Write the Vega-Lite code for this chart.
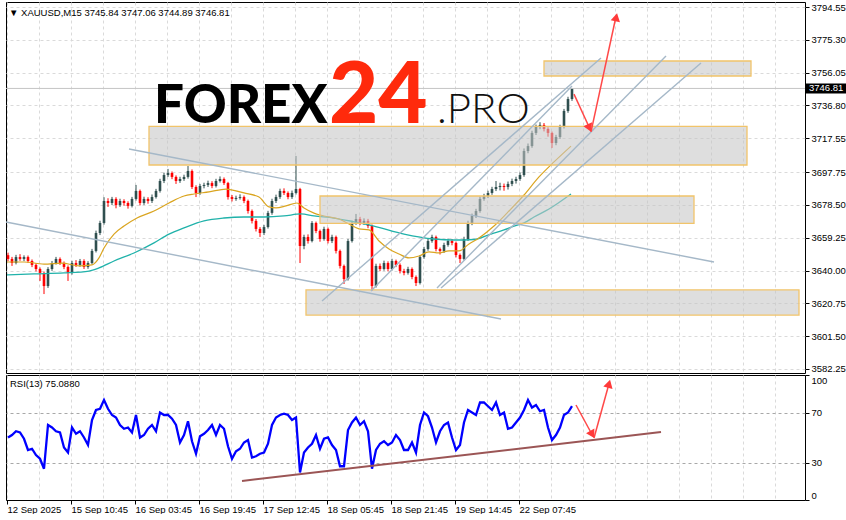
{
"$schema": "https://vega.github.io/schema/vega-lite/v6.json",
"background": "white",
"padding": {"left": 2, "top": 1, "right": 0, "bottom": 0},
"spacing": 0,
"config": {
  "view": {"stroke": "black", "strokeWidth": 1},
  "axis": {"labelFont": "Liberation Sans", "labelFontSize": 9.5, "labelColor": "#000", "tickColor": "#000", "domain": false, "title": null, "labelOverlap": false, "labelSeparation": 0, "tickCount": 60},
  "text": {"font": "Liberation Sans"}
},
"datasets": {
"candles": [
{"x":4,"o":3649.0,"h":3650.5,"l":3645.5,"c":3646.8,"r":50},
{"x":8,"o":3646.8,"h":3648.0,"l":3642.7,"c":3644.4,"r":52},
{"x":12,"o":3644.4,"h":3649.2,"l":3643.6,"c":3647.9,"r":55},
{"x":16,"o":3647.9,"h":3649.6,"l":3645.7,"c":3646.8,"r":54},
{"x":20,"o":3646.8,"h":3648.9,"l":3645.5,"c":3647.9,"r":49},
{"x":24,"o":3647.9,"h":3648.8,"l":3644.5,"c":3645.6,"r":40},
{"x":28,"o":3645.6,"h":3646.5,"l":3642.0,"c":3643.3,"r":41},
{"x":32,"o":3643.3,"h":3644.2,"l":3639.5,"c":3640.9,"r":36},
{"x":36,"o":3640.9,"h":3641.8,"l":3633.9,"c":3638.6,"r":33},
{"x":40,"o":3638.6,"h":3639.4,"l":3626.2,"c":3630.9,"r":25},
{"x":44,"o":3630.9,"h":3642.0,"l":3629.8,"c":3640.9,"r":60},
{"x":48,"o":3640.9,"h":3645.6,"l":3639.8,"c":3644.4,"r":58},
{"x":52,"o":3644.4,"h":3648.0,"l":3643.5,"c":3646.8,"r":55},
{"x":56,"o":3646.8,"h":3647.7,"l":3643.3,"c":3644.4,"r":54},
{"x":60,"o":3644.4,"h":3645.3,"l":3640.8,"c":3642.1,"r":42},
{"x":64,"o":3642.1,"h":3643.0,"l":3633.9,"c":3638.6,"r":38},
{"x":68,"o":3638.6,"h":3645.7,"l":3637.6,"c":3644.4,"r":58},
{"x":72,"o":3644.4,"h":3646.1,"l":3642.1,"c":3643.3,"r":53},
{"x":76,"o":3643.3,"h":3646.8,"l":3642.2,"c":3645.6,"r":55},
{"x":80,"o":3645.6,"h":3646.6,"l":3640.9,"c":3642.1,"r":50},
{"x":84,"o":3642.1,"h":3645.5,"l":3641.0,"c":3644.4,"r":44},
{"x":88,"o":3644.4,"h":3652.7,"l":3643.6,"c":3651.5,"r":64},
{"x":92,"o":3651.5,"h":3663.4,"l":3650.6,"c":3662.0,"r":72},
{"x":96,"o":3662.0,"h":3669.2,"l":3660.8,"c":3667.9,"r":73},
{"x":100,"o":3667.9,"h":3683.0,"l":3666.9,"c":3680.8,"r":80},
{"x":104,"o":3680.8,"h":3682.4,"l":3677.3,"c":3679.6,"r":73},
{"x":108,"o":3679.6,"h":3683.2,"l":3678.4,"c":3682.0,"r":68},
{"x":112,"o":3682.0,"h":3683.0,"l":3676.5,"c":3678.4,"r":66},
{"x":116,"o":3678.4,"h":3682.1,"l":3677.3,"c":3680.8,"r":60},
{"x":120,"o":3680.8,"h":3681.8,"l":3678.0,"c":3679.6,"r":57},
{"x":124,"o":3679.6,"h":3680.6,"l":3676.3,"c":3677.9,"r":58},
{"x":128,"o":3677.9,"h":3683.2,"l":3677.0,"c":3682.0,"r":54},
{"x":132,"o":3682.0,"h":3690.2,"l":3681.0,"c":3686.7,"r":68},
{"x":136,"o":3686.7,"h":3687.5,"l":3678.2,"c":3679.6,"r":50},
{"x":140,"o":3679.6,"h":3683.3,"l":3678.5,"c":3682.0,"r":52},
{"x":144,"o":3682.0,"h":3683.0,"l":3679.2,"c":3680.8,"r":57},
{"x":148,"o":3680.8,"h":3684.6,"l":3679.6,"c":3683.1,"r":60},
{"x":152,"o":3683.1,"h":3687.9,"l":3682.2,"c":3686.7,"r":55},
{"x":156,"o":3686.7,"h":3693.8,"l":3685.7,"c":3692.5,"r":70},
{"x":160,"o":3692.5,"h":3697.4,"l":3691.3,"c":3696.0,"r":68},
{"x":164,"o":3696.0,"h":3699.6,"l":3694.9,"c":3697.2,"r":68},
{"x":168,"o":3697.2,"h":3698.1,"l":3693.6,"c":3694.9,"r":65},
{"x":172,"o":3694.9,"h":3695.8,"l":3690.8,"c":3692.5,"r":60},
{"x":176,"o":3692.5,"h":3695.0,"l":3691.4,"c":3693.7,"r":46},
{"x":180,"o":3693.7,"h":3696.2,"l":3692.6,"c":3694.9,"r":52},
{"x":184,"o":3694.9,"h":3701.3,"l":3693.9,"c":3698.4,"r":63},
{"x":188,"o":3698.4,"h":3699.3,"l":3687.8,"c":3689.0,"r":47},
{"x":192,"o":3689.0,"h":3690.0,"l":3683.1,"c":3685.5,"r":37},
{"x":196,"o":3685.5,"h":3690.8,"l":3684.4,"c":3689.6,"r":51},
{"x":200,"o":3689.6,"h":3691.5,"l":3688.2,"c":3690.2,"r":53},
{"x":204,"o":3690.2,"h":3692.7,"l":3689.0,"c":3691.3,"r":56},
{"x":208,"o":3691.3,"h":3692.4,"l":3688.3,"c":3689.6,"r":60},
{"x":212,"o":3689.6,"h":3693.8,"l":3688.7,"c":3692.5,"r":52},
{"x":216,"o":3692.5,"h":3695.2,"l":3691.6,"c":3693.7,"r":60},
{"x":220,"o":3693.7,"h":3694.6,"l":3690.2,"c":3691.3,"r":57},
{"x":224,"o":3691.3,"h":3692.0,"l":3681.6,"c":3683.1,"r":43},
{"x":228,"o":3683.1,"h":3684.3,"l":3680.5,"c":3682.0,"r":33},
{"x":232,"o":3682.0,"h":3683.9,"l":3680.9,"c":3682.6,"r":39},
{"x":236,"o":3682.6,"h":3684.7,"l":3681.6,"c":3683.1,"r":41},
{"x":240,"o":3683.1,"h":3684.0,"l":3679.5,"c":3680.8,"r":46},
{"x":244,"o":3680.8,"h":3681.6,"l":3673.4,"c":3674.9,"r":48},
{"x":248,"o":3674.9,"h":3675.8,"l":3667.6,"c":3669.1,"r":34},
{"x":252,"o":3669.1,"h":3670.2,"l":3662.9,"c":3664.4,"r":35},
{"x":256,"o":3664.4,"h":3665.5,"l":3659.7,"c":3662.0,"r":37},
{"x":260,"o":3662.0,"h":3666.8,"l":3660.8,"c":3665.5,"r":38},
{"x":264,"o":3665.5,"h":3675.0,"l":3664.6,"c":3673.8,"r":45},
{"x":268,"o":3673.8,"h":3682.1,"l":3672.7,"c":3680.8,"r":60},
{"x":272,"o":3680.8,"h":3684.5,"l":3679.6,"c":3683.1,"r":66},
{"x":276,"o":3683.1,"h":3688.0,"l":3682.0,"c":3686.7,"r":68},
{"x":280,"o":3686.7,"h":3688.2,"l":3684.3,"c":3685.5,"r":69},
{"x":284,"o":3685.5,"h":3686.4,"l":3681.8,"c":3683.1,"r":68},
{"x":288,"o":3683.1,"h":3686.9,"l":3682.0,"c":3685.5,"r":64},
{"x":292,"o":3685.5,"h":3707.2,"l":3684.6,"c":3687.8,"r":66},
{"x":296,"o":3687.8,"h":3688.5,"l":3644.4,"c":3654.4,"r":22},
{"x":300,"o":3654.4,"h":3661.0,"l":3652.5,"c":3659.7,"r":38},
{"x":304,"o":3659.7,"h":3661.2,"l":3655.8,"c":3657.3,"r":42},
{"x":308,"o":3657.3,"h":3669.0,"l":3656.5,"c":3667.9,"r":45},
{"x":312,"o":3667.9,"h":3668.7,"l":3661.9,"c":3663.2,"r":52},
{"x":316,"o":3663.2,"h":3664.0,"l":3656.9,"c":3658.5,"r":41},
{"x":320,"o":3658.5,"h":3665.7,"l":3657.5,"c":3664.4,"r":49},
{"x":324,"o":3664.4,"h":3665.2,"l":3655.9,"c":3657.3,"r":50},
{"x":328,"o":3657.3,"h":3661.0,"l":3656.1,"c":3659.7,"r":44},
{"x":332,"o":3659.7,"h":3660.5,"l":3650.0,"c":3651.5,"r":40},
{"x":336,"o":3651.5,"h":3652.3,"l":3641.2,"c":3642.7,"r":27},
{"x":340,"o":3642.7,"h":3643.5,"l":3632.1,"c":3635.0,"r":27},
{"x":344,"o":3635.0,"h":3658.5,"l":3634.1,"c":3657.3,"r":56},
{"x":348,"o":3657.3,"h":3669.2,"l":3656.4,"c":3667.9,"r":62},
{"x":352,"o":3667.9,"h":3673.2,"l":3666.8,"c":3670.2,"r":66},
{"x":356,"o":3670.2,"h":3671.5,"l":3666.6,"c":3667.9,"r":60},
{"x":360,"o":3667.9,"h":3670.6,"l":3666.8,"c":3669.1,"r":63},
{"x":364,"o":3669.1,"h":3670.3,"l":3664.8,"c":3666.1,"r":55},
{"x":368,"o":3666.1,"h":3667.0,"l":3628.0,"c":3630.9,"r":25},
{"x":372,"o":3630.9,"h":3644.0,"l":3630.0,"c":3642.7,"r":40},
{"x":376,"o":3642.7,"h":3644.1,"l":3639.6,"c":3640.9,"r":45},
{"x":380,"o":3640.9,"h":3645.8,"l":3639.9,"c":3644.4,"r":47},
{"x":384,"o":3644.4,"h":3645.4,"l":3639.5,"c":3640.9,"r":44},
{"x":388,"o":3640.9,"h":3646.9,"l":3640.0,"c":3645.6,"r":46},
{"x":392,"o":3645.6,"h":3646.4,"l":3642.0,"c":3643.3,"r":52},
{"x":396,"o":3643.3,"h":3644.2,"l":3638.3,"c":3639.7,"r":48},
{"x":400,"o":3639.7,"h":3641.0,"l":3637.2,"c":3638.6,"r":40},
{"x":404,"o":3638.6,"h":3642.2,"l":3637.6,"c":3640.9,"r":40},
{"x":408,"o":3640.9,"h":3641.8,"l":3634.9,"c":3636.2,"r":46},
{"x":412,"o":3636.2,"h":3637.1,"l":3630.9,"c":3632.7,"r":38},
{"x":416,"o":3632.7,"h":3649.1,"l":3631.8,"c":3647.9,"r":60},
{"x":420,"o":3647.9,"h":3653.9,"l":3646.9,"c":3652.6,"r":70},
{"x":424,"o":3652.6,"h":3658.6,"l":3651.6,"c":3657.3,"r":67},
{"x":428,"o":3657.3,"h":3661.0,"l":3656.3,"c":3659.7,"r":58},
{"x":432,"o":3659.7,"h":3660.5,"l":3651.2,"c":3652.6,"r":46},
{"x":436,"o":3652.6,"h":3653.5,"l":3649.4,"c":3651.5,"r":55},
{"x":440,"o":3651.5,"h":3656.3,"l":3650.3,"c":3655.0,"r":60},
{"x":444,"o":3655.0,"h":3658.7,"l":3654.0,"c":3657.3,"r":62},
{"x":448,"o":3657.3,"h":3658.5,"l":3654.8,"c":3656.2,"r":50},
{"x":452,"o":3656.2,"h":3657.0,"l":3647.7,"c":3649.1,"r":40},
{"x":456,"o":3649.1,"h":3650.0,"l":3644.4,"c":3646.8,"r":44},
{"x":460,"o":3646.8,"h":3659.8,"l":3645.9,"c":3658.5,"r":62},
{"x":464,"o":3658.5,"h":3669.2,"l":3657.4,"c":3667.9,"r":72},
{"x":468,"o":3667.9,"h":3673.4,"l":3666.6,"c":3672.0,"r":70},
{"x":472,"o":3672.0,"h":3676.2,"l":3670.8,"c":3674.9,"r":68},
{"x":476,"o":3674.9,"h":3683.3,"l":3673.9,"c":3682.0,"r":78},
{"x":480,"o":3682.0,"h":3685.0,"l":3680.9,"c":3683.7,"r":78},
{"x":484,"o":3683.7,"h":3686.8,"l":3682.5,"c":3685.5,"r":75},
{"x":488,"o":3685.5,"h":3689.1,"l":3684.4,"c":3687.8,"r":72},
{"x":492,"o":3687.8,"h":3692.5,"l":3686.6,"c":3689.0,"r":78},
{"x":496,"o":3689.0,"h":3691.5,"l":3687.0,"c":3689.6,"r":68},
{"x":500,"o":3689.6,"h":3691.0,"l":3686.8,"c":3689.0,"r":70},
{"x":504,"o":3689.0,"h":3692.2,"l":3687.5,"c":3690.8,"r":57},
{"x":508,"o":3690.8,"h":3693.9,"l":3689.5,"c":3692.5,"r":58},
{"x":512,"o":3692.5,"h":3695.0,"l":3691.0,"c":3693.7,"r":62},
{"x":516,"o":3693.7,"h":3697.5,"l":3692.6,"c":3696.0,"r":66},
{"x":520,"o":3696.0,"h":3711.6,"l":3695.0,"c":3710.1,"r":72},
{"x":524,"o":3710.1,"h":3714.5,"l":3708.8,"c":3713.0,"r":80},
{"x":528,"o":3713.0,"h":3722.0,"l":3712.0,"c":3720.7,"r":74},
{"x":532,"o":3720.7,"h":3725.6,"l":3719.5,"c":3724.2,"r":76},
{"x":536,"o":3724.2,"h":3727.0,"l":3722.9,"c":3725.4,"r":71},
{"x":540,"o":3725.4,"h":3726.5,"l":3721.6,"c":3723.0,"r":72},
{"x":544,"o":3723.0,"h":3724.0,"l":3718.5,"c":3720.7,"r":58},
{"x":548,"o":3720.7,"h":3721.5,"l":3711.9,"c":3714.8,"r":48},
{"x":552,"o":3714.8,"h":3719.6,"l":3713.5,"c":3718.3,"r":52},
{"x":556,"o":3718.3,"h":3725.5,"l":3717.2,"c":3724.2,"r":58},
{"x":560,"o":3724.2,"h":3734.8,"l":3723.3,"c":3733.6,"r":68},
{"x":564,"o":3733.6,"h":3741.9,"l":3732.5,"c":3740.6,"r":70},
{"x":568,"o":3740.6,"h":3747.06,"l":3739.5,"c":3746.81,"r":75.088}
],
"ma1": [
{"x":3,"m":3645.0},{"x":20,"m":3645.0},{"x":40,"m":3643.8},{"x":58,"m":3644.4},{"x":75,"m":3642.7},{"x":88,"m":3643.3},{"x":95,"m":3647.4},{"x":100,"m":3653.2},{"x":110,"m":3661.4},{"x":120,"m":3666.1},{"x":133,"m":3670.8},{"x":150,"m":3674.9},{"x":165,"m":3679.6},{"x":180,"m":3683.7},{"x":190,"m":3684.9},{"x":205,"m":3686.1},{"x":222,"m":3687.8},{"x":240,"m":3685.5},{"x":255,"m":3683.1},{"x":265,"m":3677.3},{"x":272,"m":3676.7},{"x":282,"m":3677.9},{"x":293,"m":3679.6},{"x":300,"m":3676.7},{"x":310,"m":3673.7},{"x":320,"m":3672.0},{"x":335,"m":3670.2},{"x":345,"m":3667.3},{"x":355,"m":3664.4},{"x":365,"m":3663.8},{"x":375,"m":3657.3},{"x":385,"m":3652.6},{"x":395,"m":3649.7},{"x":405,"m":3647.4},{"x":415,"m":3648.5},{"x":425,"m":3650.9},{"x":435,"m":3650.3},{"x":445,"m":3651.5},{"x":455,"m":3651.5},{"x":465,"m":3655.6},{"x":475,"m":3659.1},{"x":490,"m":3666.1},{"x":503,"m":3673.7},{"x":520,"m":3684.3},{"x":535,"m":3694.9},{"x":550,"m":3703.7},{"x":567,"m":3713.0}
],
"ma2": [
{"x":3,"m":3637.4},{"x":30,"m":3638.0},{"x":60,"m":3638.6},{"x":85,"m":3639.7},{"x":95,"m":3641.5},{"x":110,"m":3645.6},{"x":130,"m":3650.3},{"x":150,"m":3656.2},{"x":165,"m":3661.4},{"x":180,"m":3665.0},{"x":200,"m":3669.1},{"x":220,"m":3670.8},{"x":240,"m":3671.4},{"x":260,"m":3671.4},{"x":280,"m":3672.0},{"x":297,"m":3673.2},{"x":310,"m":3672.0},{"x":330,"m":3670.8},{"x":350,"m":3668.6},{"x":370,"m":3666.1},{"x":400,"m":3661.4},{"x":430,"m":3658.5},{"x":450,"m":3657.9},{"x":470,"m":3658.2},{"x":487,"m":3661.4},{"x":500,"m":3663.8},{"x":510,"m":3666.1},{"x":520,"m":3667.9},{"x":530,"m":3671.4},{"x":545,"m":3676.1},{"x":567,"m":3684.9}
],
"tlines": [
{"id":"d1","x":125,"p":3711.3},{"id":"d1","x":710,"p":3645.0},
{"id":"d2","x":2,"p":3668.5},{"id":"d2","x":497,"p":3611.6},
{"id":"u1","x":318,"p":3622.1},{"id":"u1","x":597,"p":3764.7},
{"id":"u2","x":367,"p":3628.0},{"id":"u2","x":568,"p":3748.2},
{"id":"u3","x":433,"p":3629.8},{"id":"u3","x":662,"p":3765.8},
{"id":"u4","x":437,"p":3629.8},{"id":"u4","x":697,"p":3761.7}
],
"zones": [
{"x":540,"x2":747,"p":3762.9,"p2":3754.1},
{"x":145,"x2":743,"p":3724.5,"p2":3701.9},
{"x":316,"x2":690,"p":3683.7,"p2":3667.6},
{"x":302,"x2":795,"p":3628.6,"p2":3613.9}
],
"arrows": [
{"id":"a1","x":570,"p":3743.5},{"id":"a1","x":586,"p":3723.0},
{"id":"a2","x":587,"p":3721.3},{"id":"a2","x":612,"p":3789.0}
],
"rsiarrows": [
{"id":"b1","x":572,"r":76},{"id":"b1","x":589,"r":51},
{"id":"b2","x":590,"r":49.6},{"id":"b2","x":605,"r":93}
]
},
"vconcat": [
{
"width": 799, "height": 371,
"layer": [
{
"data": {"name": "candles"},
"mark": {"type": "rule", "strokeWidth": 1},
"encoding": {
  "x": {"field": "x", "type": "quantitative", "scale": {"domain": [2, 801], "nice": false, "zero": false},
        "axis": {"values": [3,35,67,99,131,163,195,227,259,291,323,355,387,419,451,483,515,547,579,611,643,675,707,739,771], "tickCount": 60, "grid": true, "gridDash": [3,3], "gridColor": "#dadada", "labels": false, "ticks": false, "domain": false, "minExtent": 0, "title": null}},
  "y": {"field": "l", "type": "quantitative", "scale": {"domain": [3579.9, 3797.5], "nice": false, "zero": false},
        "axis": {"orient": "right", "values": [3582.25,3601.5,3620.75,3640,3659.25,3678.5,3697.75,3717.55,3736.8,3756.05,3775.3,3794.55], "tickCount": 60, "format": ".2f", "tickSize": 4, "labelPadding": 2, "grid": true, "gridDash": [3,3], "gridColor": "#dadada", "labelOverlap": false, "labelBound": false, "title": null}},
  "y2": {"field": "h"},
  "color": {"condition": {"test": "datum.c >= datum.o", "value": "#2f4f4f"}, "value": "#ff0000"}
}
},
{
"data": {"name": "candles"},
"mark": {"type": "rule", "strokeWidth": 2.6, "strokeCap": "butt"},
"encoding": {
  "x": {"field": "x", "type": "quantitative"},
  "y": {"field": "o", "type": "quantitative"},
  "y2": {"field": "c"},
  "color": {"condition": {"test": "datum.c >= datum.o", "value": "#2f4f4f"}, "value": "#ff0000"}
}
},
{
"data": {"values": [{"p": 3746.81}]},
"mark": {"type": "rule", "color": "#c4c4c4", "strokeWidth": 1},
"encoding": {"y": {"field": "p", "type": "quantitative"}}
},
{
"data": {"name": "ma2"},
"mark": {"type": "line", "color": "#20b2aa", "strokeWidth": 1.3, "interpolate": "monotone"},
"encoding": {"x": {"field": "x", "type": "quantitative"}, "y": {"field": "m", "type": "quantitative"}}
},
{
"data": {"name": "ma1"},
"mark": {"type": "line", "color": "#daa520", "strokeWidth": 1.2, "interpolate": "monotone"},
"encoding": {"x": {"field": "x", "type": "quantitative"}, "y": {"field": "m", "type": "quantitative"}}
},
{
"data": {"name": "zones"},
"mark": {"type": "rect", "fill": "#c6c6c6", "fillOpacity": 0.58, "stroke": "#f1c46a", "strokeWidth": 1.3},
"encoding": {"x": {"field": "x", "type": "quantitative"}, "x2": {"field": "x2"}, "y": {"field": "p", "type": "quantitative"}, "y2": {"field": "p2"}}
},
{
"data": {"name": "tlines"},
"mark": {"type": "line", "color": "#a5b8c8", "strokeWidth": 1.4},
"encoding": {"x": {"field": "x", "type": "quantitative"}, "y": {"field": "p", "type": "quantitative"}, "detail": {"field": "id"}}
},
{
"data": {"name": "arrows"},
"mark": {"type": "line", "color": "#ff4848", "strokeWidth": 1.5},
"encoding": {"x": {"field": "x", "type": "quantitative"}, "y": {"field": "p", "type": "quantitative"}, "detail": {"field": "id"}}
},
{
"data": {"values": [{"x": 585.4, "p": 3723.6}]},
"mark": {"type": "point", "shape": "triangle-up", "filled": true, "angle": 156, "size": 90, "color": "#ff3a3a", "opacity": 1},
"encoding": {"x": {"field": "x", "type": "quantitative"}, "y": {"field": "p", "type": "quantitative"}}
},
{
"data": {"values": [{"x": 612.2, "p": 3788.6}]},
"mark": {"type": "point", "shape": "triangle-up", "filled": true, "angle": 12, "size": 90, "color": "#ff3a3a", "opacity": 1},
"encoding": {"x": {"field": "x", "type": "quantitative"}, "y": {"field": "p", "type": "quantitative"}}
},
{
"data": {"values": [{"x": 150, "p": 3726.5, "t": "FOREX"}]},
"mark": {"type": "text", "font": "Lato", "fontWeight": 900, "fontSize": 53, "color": "#000", "align": "left", "baseline": "alphabetic"},
"encoding": {"x": {"field": "x", "type": "quantitative"}, "y": {"field": "p", "type": "quantitative"}, "text": {"field": "t"}}
},
{
"data": {"values": [{"x": 325, "p": 3726.5, "t": "24"}]},
"mark": {"type": "text", "font": "Lato", "fontWeight": 900, "fontSize": 85, "color": "#ff2a0c", "align": "left", "baseline": "alphabetic"},
"encoding": {"x": {"field": "x", "type": "quantitative"}, "y": {"field": "p", "type": "quantitative"}, "text": {"field": "t"}}
},
{
"data": {"values": [{"x": 433, "p": 3726.5, "t": ".PRO"}]},
"mark": {"type": "text", "font": "Lato", "fontWeight": 300, "fontSize": 42, "color": "#111", "align": "left", "baseline": "alphabetic"},
"encoding": {"x": {"field": "x", "type": "quantitative"}, "y": {"field": "p", "type": "quantitative"}, "text": {"field": "t"}}
},
{
"data": {"values": [{"x": 5, "p": 3791.3, "t": "▼ XAUUSD,M15  3745.84 3747.06 3744.89 3746.81"}]},
"mark": {"type": "text", "fontSize": 9.5, "color": "#000", "align": "left", "baseline": "middle"},
"encoding": {"x": {"field": "x", "type": "quantitative"}, "y": {"field": "p", "type": "quantitative"}, "text": {"field": "t"}}
},
{
"data": {"values": [{"x": 802, "x2": 846, "p": 3749.7, "p2": 3743.9}]},
"mark": {"type": "rect", "color": "#000"},
"encoding": {"x": {"field": "x", "type": "quantitative"}, "x2": {"field": "x2"}, "y": {"field": "p", "type": "quantitative"}, "y2": {"field": "p2"}}
},
{
"data": {"values": [{"x": 805, "p": 3746.81, "t": "3746.81"}]},
"mark": {"type": "text", "fontSize": 9.5, "color": "#fff", "align": "left", "baseline": "middle"},
"encoding": {"x": {"field": "x", "type": "quantitative"}, "y": {"field": "p", "type": "quantitative"}, "text": {"field": "t"}}
}
]
},
{
"width": 799, "height": 125,
"layer": [
{
"data": {"name": "candles"},
"mark": {"type": "line", "color": "#0000ff", "strokeWidth": 2.3},
"encoding": {
  "x": {"field": "x", "type": "quantitative", "scale": {"domain": [2, 801], "nice": false, "zero": false},
        "axis": {"values": [3,35,67,99,131,163,195,227,259,291,323,355,387,419,451,483,515,547,579,611,643,675,707,739,771], "tickCount": 60,
                 "grid": true, "gridDash": [3,3], "gridColor": "#dadada",
                 "labelExpr": "((datum.value-3)%64==0 && datum.value<=515) ? ['12 Sep 2025','15 Sep 10:45','16 Sep 03:45','16 Sep 19:45','17 Sep 12:45','18 Sep 05:45','18 Sep 21:45','19 Sep 14:45','22 Sep 07:45'][(datum.value-3)/64] : ''",
                 "labelAlign": "left", "labelPadding": 0, "tickSize": 4,
                 "tickOpacity": {"condition": {"test": "(datum.value-3)%64==0 && datum.value<=515", "value": 1}, "value": 0},
                 "labelOverlap": false, "labelBound": false, "labelFlush": false, "title": null}},
  "y": {"field": "r", "type": "quantitative", "scale": {"domain": [0, 100], "nice": false, "zero": false},
        "axis": {"orient": "right", "values": [0, 30, 70, 100], "tickCount": 60, "tickSize": 4, "labelPadding": 2, "grid": true, "gridDash": [3,3], "gridColor": "#a8a8a8",
                 "gridOpacity": {"condition": {"test": "datum.value==30 || datum.value==70", "value": 1}, "value": 0},
                 "labelFlush": true, "labelOverlap": false, "title": null}}
}
},
{
"data": {"values": [{"x": 238, "r": 15.2}, {"x": 657, "r": 54.4}]},
"mark": {"type": "line", "color": "#9b5555", "strokeWidth": 2},
"encoding": {"x": {"field": "x", "type": "quantitative"}, "y": {"field": "r", "type": "quantitative"}}
},
{
"data": {"name": "rsiarrows"},
"mark": {"type": "line", "color": "#ff4848", "strokeWidth": 1.5},
"encoding": {"x": {"field": "x", "type": "quantitative"}, "y": {"field": "r", "type": "quantitative"}, "detail": {"field": "id"}}
},
{
"data": {"values": [{"x": 588.2, "r": 52.4}]},
"mark": {"type": "point", "shape": "triangle-up", "filled": true, "angle": 151, "size": 90, "color": "#ff3a3a", "opacity": 1},
"encoding": {"x": {"field": "x", "type": "quantitative"}, "y": {"field": "r", "type": "quantitative"}}
},
{
"data": {"values": [{"x": 605, "r": 93}]},
"mark": {"type": "point", "shape": "triangle-up", "filled": true, "angle": 15, "size": 90, "color": "#ff3a3a", "opacity": 1},
"encoding": {"x": {"field": "x", "type": "quantitative"}, "y": {"field": "r", "type": "quantitative"}}
},
{
"data": {"values": [{"x": 6, "r": 92.6, "t": "RSI(13) 75.0880"}]},
"mark": {"type": "text", "fontSize": 9.5, "color": "#000", "align": "left", "baseline": "middle"},
"encoding": {"x": {"field": "x", "type": "quantitative"}, "y": {"field": "r", "type": "quantitative"}, "text": {"field": "t"}}
}
]
}
]
}
